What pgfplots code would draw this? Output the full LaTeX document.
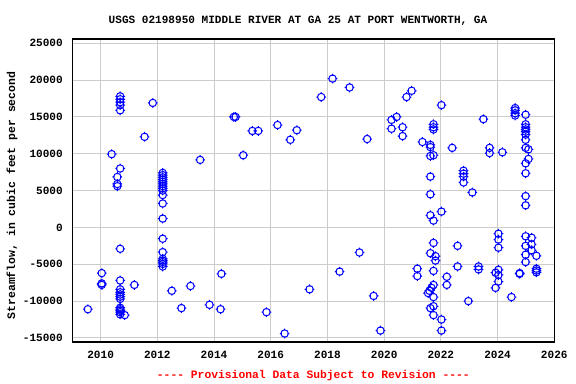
\documentclass[border=0pt]{standalone}
\usepackage{fontspec}
\setmainfont{Liberation Mono}
\usepackage{pgfplots}
\pgfplotsset{compat=1.18}
\definecolor{usgsblue}{RGB}{0,0,255}
\definecolor{gridgray}{RGB}{204,204,204}
\pgfdeclareplotmark{usgs}{%
  \pgfpathcircle{\pgfpointorigin}{\pgfplotmarksize}%
  \pgfpathmoveto{\pgfqpoint{0.75\pgfplotmarksize}{0pt}}\pgfpathlineto{\pgfqpoint{1.3\pgfplotmarksize}{0pt}}%
  \pgfpathmoveto{\pgfqpoint{-0.75\pgfplotmarksize}{0pt}}\pgfpathlineto{\pgfqpoint{-1.3\pgfplotmarksize}{0pt}}%
  \pgfpathmoveto{\pgfqpoint{0pt}{0.75\pgfplotmarksize}}\pgfpathlineto{\pgfqpoint{0pt}{1.3\pgfplotmarksize}}%
  \pgfpathmoveto{\pgfqpoint{0pt}{-0.75\pgfplotmarksize}}\pgfpathlineto{\pgfqpoint{0pt}{-1.3\pgfplotmarksize}}%
  \pgfusepathqstroke}
\def\dsh{\hbox{-}}
\begin{document}
\begin{tikzpicture}
\useasboundingbox (0,0) rectangle (432pt,288pt);
\begin{axis}[
  at={(54.2pt,31.5pt)}, anchor=south west,
  scale only axis, width=361.5pt, height=227.25pt,
  xmin=2009, xmax=2026, ymin=-15550, ymax=25580,
  xtick={2010,2012,...,2026},
  ytick={-15000,-10000,...,25000},
  scaled y ticks=false, scaled x ticks=false,
  grid=major, major grid style={gridgray, line width=0.75pt},
  major tick length=0pt,
  axis line style={black, line width=0.9pt},
  /pgf/number format/assume math mode=true,
  /pgf/number format/1000 sep={},
  ticklabel style={font=\bfseries\fontsize{8.3}{10}\selectfont},
  xticklabel style={yshift=-3.3pt},
  yticklabel style={xshift=-3.6pt},
  clip=false,
]
\addplot[only marks, mark=usgs, mark size=2.8pt, usgsblue, line width=0.75pt] coordinates {
(2009.55,-11100) (2010.04,-6200) (2010.04,-7600) (2010.04,-7800)
(2010.39,9950) (2010.59,6850) (2010.59,5900) (2010.59,5600)
(2010.69,17800) (2010.69,17400) (2010.69,17000) (2010.69,16600) (2010.69,15900)
(2010.69,8000) (2010.69,-2900) (2010.69,-7200) (2010.69,-8400) (2010.69,-8800)
(2010.69,-9100) (2010.69,-9400) (2010.69,-9700) (2010.69,-10900) (2010.69,-11100)
(2010.69,-11300) (2010.69,-11500) (2010.69,-11800) (2010.85,-11900)
(2011.19,-7800) (2011.55,12300) (2011.84,16900)
(2012.19,7400) (2012.19,7100) (2012.19,6800) (2012.19,6500) (2012.19,6200)
(2012.19,5900) (2012.19,5600) (2012.19,5300) (2012.19,5000) (2012.19,4400)
(2012.19,3250) (2012.19,1200) (2012.19,-1530) (2012.19,-3350) (2012.19,-4260)
(2012.19,-4500) (2012.19,-4700) (2012.19,-4950) (2012.19,-5300)
(2012.51,-8600) (2012.85,-10950) (2013.17,-7950) (2013.51,9170) (2013.84,-10500)
(2014.23,-11100) (2014.26,-6300) (2014.70,15000) (2014.76,15000) (2015.03,9800)
(2015.35,13100) (2015.56,13100) (2015.85,-11500) (2016.24,13900) (2016.49,-14400)
(2016.69,11900) (2016.92,13200) (2017.37,-8400) (2017.78,17700) (2018.18,20200)
(2018.43,-6000) (2018.78,19000) (2019.13,-3400) (2019.40,12000) (2019.63,-9300)
(2019.87,-14000) (2020.26,14600) (2020.26,13400) (2020.44,15000) (2020.65,13600)
(2020.65,12400) (2020.79,17700) (2020.97,18550) (2021.17,-5600) (2021.17,-6600)
(2021.35,11600) (2021.63,11200) (2021.63,10900) (2021.63,9700) (2021.63,6900)
(2021.63,4500) (2021.63,1650) (2021.63,-3500) (2021.55,-8900) (2021.60,-8600)
(2021.67,-8200) (2021.63,-10950) (2021.74,14000) (2021.74,13600) (2021.74,13300)
(2021.74,9800) (2021.74,930) (2021.74,-2100) (2021.74,-5900) (2021.74,-7800)
(2021.74,-9450) (2021.74,-10700) (2021.74,-11900) (2021.81,-3900) (2021.81,-4500)
(2022.02,16600) (2022.02,2150) (2022.02,-12500) (2022.02,-14000)
(2022.21,-6700) (2022.21,-7800) (2022.40,10800) (2022.59,-2500) (2022.59,-5300)
(2022.80,7700) (2022.80,7300) (2022.80,6900) (2022.80,6100) (2022.97,-10000)
(2023.11,4750) (2023.33,-5300) (2023.33,-5700) (2023.50,14700) (2023.72,10800)
(2023.72,10100) (2023.93,-6150) (2023.93,-8200) (2024.03,-850) (2024.03,-1650)
(2024.03,-2750) (2024.03,-5750) (2024.03,-6450) (2024.03,-7350) (2024.17,10200)
(2024.49,-9450) (2024.62,16200) (2024.62,15900) (2024.62,15500) (2024.62,15200)
(2024.78,-6200) (2024.78,-6300)
(2024.99,15300) (2024.99,14000) (2024.99,13600) (2024.99,13300) (2024.99,13000)
(2024.99,12600) (2024.99,11900) (2024.99,10800) (2024.99,8700) (2024.99,7350)
(2024.99,4250) (2024.99,3000) (2024.99,-1200) (2024.99,-2500) (2024.99,-3700)
(2024.99,-4700) (2025.09,10600) (2025.09,9300)
(2025.20,-1400) (2025.20,-2300) (2025.20,-3100)
(2025.37,-3850) (2025.37,-5600) (2025.37,-5850) (2025.37,-6100)
};
\end{axis}
\node[font=\bfseries\fontsize{8.3}{10}\selectfont] at (223.5pt,272.3pt) {USGS 02198950 MIDDLE RIVER AT GA 25 AT PORT WENTWORTH, GA};
\node[font=\bfseries\fontsize{8.6}{10}\selectfont, rotate=90] at (9pt,141.4pt) {Streamflow, in cubic feet per second};
\node[font=\bfseries\fontsize{8.5}{10}\selectfont, text=red] at (235pt,6.5pt) {\dsh\dsh\dsh\dsh{} Provisional Data Subject to Revision \dsh\dsh\dsh\dsh};
\end{tikzpicture}
\end{document}
